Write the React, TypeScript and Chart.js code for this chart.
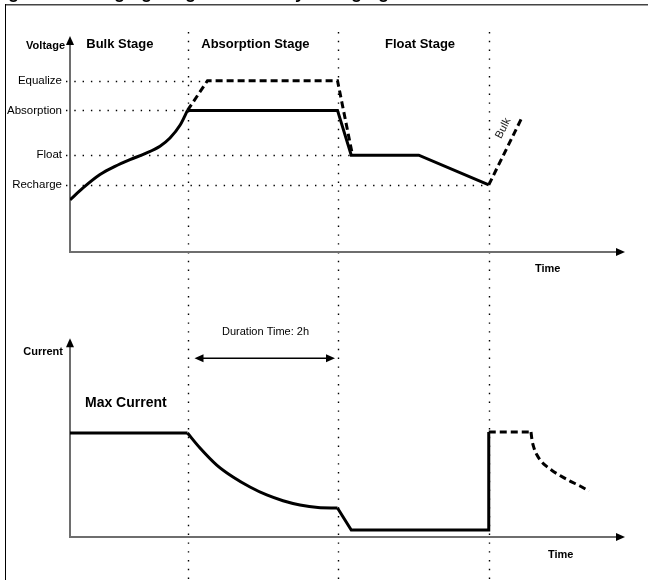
import React, { useEffect, useRef } from 'react';
import { Chart, registerables } from 'chart.js';

Chart.register(...registerables);

const FONT = '"Liberation Sans", Arial, Helvetica, sans-serif';

// ---- text / categories ----
const titleText = 'Figure 5: Charging Stages of Battery Charging';
const stageNames = ['Bulk Stage', 'Absorption Stage', 'Float Stage'];
const stageLabelStart = [13, 105, 252]; // minutes
const stageEnds = [94, 214, 335]; // minutes (stage boundaries)
const timeMax = 444; // minutes shown on the time axes
const durationLabel = 'Duration Time: 2h';

// ---- voltage levels ----
const levelNames = ['Equalize', 'Absorption', 'Float', 'Recharge'];
const levelVolts = [14.8, 14.4, 13.8, 13.4];
const levelGuideEnds = [110, 94, 225, 335]; // minutes where the dotted guide stops
const voltageAxisMin = 12.5;
const voltageAxisMax = 15.4;

// ---- voltage curves (minutes, volts) ----
const bulkVoltT = [0, 10.4, 24, 36, 48, 60, 72, 80, 88, 94];
const bulkVoltV = [13.2, 13.36, 13.54, 13.65, 13.74, 13.82, 13.92, 14.03, 14.2, 14.4];
const absFloatVoltT = [94, 214, 225, 279, 335];
const absFloatVoltV = [14.4, 14.4, 13.8, 13.8, 13.4];
const equalizeVoltT = [94, 110, 214, 226];
const equalizeVoltV = [14.4, 14.8, 14.8, 13.8];
const reBulkVoltT = [335, 362];
const reBulkVoltV = [13.4, 14.32];

// ---- current curves (minutes, % of max current) ----
const bulkCurT = [0, 94];
const bulkCurI = [100, 100];
const absCurT = [94, 104, 117.4, 130.4, 144, 157.4, 170.4, 184, 198.4, 214];
const absCurI = [100, 85.6, 69.2, 57.7, 48.1, 40.4, 34.9, 30.8, 28.4, 27.9];
const floatCurT = [214, 225, 335, 335];
const floatCurI = [27.9, 6.7, 6.7, 101];
const nextFlatT = [335, 368.8];
const nextFlatI = [101, 101];
const nextDecayT = [368.8, 369.6, 371.2, 373.6, 376.8, 380.8, 385.6, 392, 400, 408, 415.2];
const nextDecayI = [101, 93.3, 85.6, 78.8, 73.1, 68.3, 64.0, 59.1, 53.8, 49.0, 44.2];
const currentAxisMax = 191;

const toXY = (t: number[], v: number[]) => t.map((x, i) => ({ x, y: v[i] }));

const lineDs = (label: string, t: number[], v: number[], axis: string, extra: any = {}) => ({
  label,
  data: toXY(t, v),
  yAxisID: axis,
  borderColor: '#000',
  backgroundColor: '#000',
  borderWidth: 3,
  pointRadius: 0,
  pointHoverRadius: 0,
  fill: false,
  tension: 0,
  borderJoinStyle: 'miter',
  borderCapStyle: 'butt',
  ...extra,
});

const DASH = [7, 4];

function arrowHead(ctx: CanvasRenderingContext2D, tx: number, ty: number, dir: 'up' | 'right' | 'left') {
  const L = 9;
  const W = 4;
  ctx.beginPath();
  if (dir === 'up') {
    ctx.moveTo(tx, ty);
    ctx.lineTo(tx - W, ty + L);
    ctx.lineTo(tx + W, ty + L);
  } else if (dir === 'right') {
    ctx.moveTo(tx, ty);
    ctx.lineTo(tx - L, ty - W);
    ctx.lineTo(tx - L, ty + W);
  } else {
    ctx.moveTo(tx, ty);
    ctx.lineTo(tx + L, ty - W);
    ctx.lineTo(tx + L, ty + W);
  }
  ctx.closePath();
  ctx.fill();
}

function seg(ctx: CanvasRenderingContext2D, x1: number, y1: number, x2: number, y2: number) {
  ctx.beginPath();
  ctx.moveTo(x1, y1);
  ctx.lineTo(x2, y2);
  ctx.stroke();
}

const diagramPlugin = {
  id: 'diagram',
  beforeDatasetsDraw(chart: any) {
    const { ctx, scales } = chart;
    const x = scales.x;
    const yV = scales.yV;
    const yI = scales.yI;
    const px = (t: number) => x.getPixelForValue(t);
    ctx.save();

    // frame
    ctx.strokeStyle = '#444';
    ctx.lineWidth = 1.5;
    seg(ctx, 5, 4.75, 648, 4.75);
    ctx.strokeStyle = '#000';
    ctx.lineWidth = 1;
    seg(ctx, 5.5, 4, 5.5, 580);

    // stage boundaries (dotted verticals)
    ctx.strokeStyle = '#000';
    ctx.lineWidth = 1.4;
    ctx.setLineDash([1.4, 7.4]);
    stageEnds.forEach((t) => {
      const X = Math.round(px(t)) + 0.5;
      seg(ctx, X, 32, X, 580);
    });

    // level guides (dotted horizontals)
    ctx.setLineDash([1.4, 6.9]);
    levelVolts.forEach((v, i) => {
      const Y = Math.round(yV.getPixelForValue(v)) + 0.5;
      seg(ctx, 66, Y, px(levelGuideEnds[i]), Y);
    });
    ctx.setLineDash([]);

    // axes
    ctx.strokeStyle = '#6e6e6e';
    ctx.fillStyle = '#000';
    ctx.lineWidth = 2;
    const x0 = px(0);
    const xEnd = px(timeMax);
    const vBase = yV.getPixelForValue(voltageAxisMin);
    const vTop = yV.getPixelForValue(voltageAxisMax);
    seg(ctx, x0, vBase, x0, vTop + 8);
    seg(ctx, x0 - 1, vBase, xEnd - 8, vBase);
    arrowHead(ctx, x0, vTop, 'up');
    arrowHead(ctx, xEnd, vBase, 'right');

    const iBase = yI.getPixelForValue(0);
    const iTop = yI.getPixelForValue(currentAxisMax);
    seg(ctx, x0, iBase, x0, iTop + 8);
    seg(ctx, x0 - 1, iBase, xEnd - 8, iBase);
    arrowHead(ctx, x0, iTop, 'up');
    arrowHead(ctx, xEnd, iBase, 'right');

    // duration arrow
    const dY = iTop + 20;
    const dL = px(stageEnds[0]) + 7;
    const dR = px(stageEnds[1]) - 2.5;
    ctx.strokeStyle = '#000';
    ctx.lineWidth = 1.5;
    seg(ctx, dL + 6, dY, dR - 6, dY);
    arrowHead(ctx, dL, dY, 'left');
    arrowHead(ctx, dR, dY, 'right');

    ctx.restore();
  },
  afterDatasetsDraw(chart: any) {
    const { ctx, scales } = chart;
    const x = scales.x;
    const yV = scales.yV;
    const yI = scales.yI;
    const px = (t: number) => x.getPixelForValue(t);
    const x0 = px(0);
    const xEnd = px(timeMax);
    const vBase = yV.getPixelForValue(voltageAxisMin);
    const vTop = yV.getPixelForValue(voltageAxisMax);
    const iBase = yI.getPixelForValue(0);
    const iTop = yI.getPixelForValue(currentAxisMax);
    ctx.save();
    ctx.fillStyle = '#000';

    // cut-off caption at the very top (only descenders remain visible)
    ctx.font = `bold 18px ${FONT}`;
    ctx.textAlign = 'left';
    ctx.textBaseline = 'alphabetic';
    ctx.fillText(titleText, -8, -2.5);

    ctx.textBaseline = 'middle';

    // axis names
    ctx.font = `bold 11px ${FONT}`;
    ctx.textAlign = 'right';
    ctx.fillText('Voltage', x0 - 5, vTop + 10);
    ctx.fillText('Current', x0 - 7, iTop + 14);
    ctx.textAlign = 'left';
    ctx.fillText('Time', xEnd - 90, vBase + 17);
    ctx.fillText('Time', xEnd - 77, iBase + 18);

    // level names
    ctx.font = `11.5px ${FONT}`;
    ctx.textAlign = 'right';
    levelNames.forEach((n, i) => {
      ctx.fillText(n, 62, yV.getPixelForValue(levelVolts[i]));
    });

    // stage names
    ctx.font = `bold 13px ${FONT}`;
    ctx.textAlign = 'left';
    stageNames.forEach((n, i) => {
      ctx.fillText(n, px(stageLabelStart[i]), vTop + 8);
    });

    // max current
    ctx.font = `bold 14px ${FONT}`;
    ctx.fillText('Max Current', x0 + 15, yI.getPixelForValue(100) - 30);

    // duration text
    ctx.font = `11px ${FONT}`;
    ctx.textAlign = 'center';
    ctx.fillText(durationLabel, (px(stageEnds[0]) + px(stageEnds[1])) / 2 + 3, iTop - 6);

    // "Bulk" along the re-bulk dashed line
    ctx.save();
    ctx.translate(px(346.6), yV.getPixelForValue(14.16));
    ctx.rotate(-1.094);
    ctx.fillStyle = '#222';
    ctx.font = `11px ${FONT}`;
    ctx.fillText('Bulk', 0, 0);
    ctx.restore();

    ctx.restore();
  },
};

export default function App() {
  const ref = useRef<HTMLCanvasElement>(null);
  useEffect(() => {
    if (!ref.current) return;
    const chart = new Chart(ref.current, {
      type: 'line',
      data: {
        datasets: [
          lineDs('Bulk voltage', bulkVoltT, bulkVoltV, 'yV', { cubicInterpolationMode: 'monotone' }),
          lineDs('Absorption / float voltage', absFloatVoltT, absFloatVoltV, 'yV'),
          lineDs('Equalize voltage', equalizeVoltT, equalizeVoltV, 'yV', { borderDash: DASH }),
          lineDs('Re-bulk voltage', reBulkVoltT, reBulkVoltV, 'yV', { borderDash: DASH }),
          lineDs('Bulk current', bulkCurT, bulkCurI, 'yI'),
          lineDs('Absorption current', absCurT, absCurI, 'yI', { cubicInterpolationMode: 'monotone' }),
          lineDs('Float current', floatCurT, floatCurI, 'yI'),
          lineDs('Re-bulk current', nextFlatT, nextFlatI, 'yI', { borderDash: DASH }),
          lineDs('Re-bulk decay', nextDecayT, nextDecayI, 'yI', { borderDash: DASH, cubicInterpolationMode: 'monotone' }),
        ] as any,
      },
      options: {
        responsive: false,
        animation: false,
        events: [],
        layout: { padding: { left: 70, right: 23, top: 34, bottom: 43 } },
        plugins: { legend: { display: false }, tooltip: { enabled: false }, title: { display: false } },
        scales: {
          x: { type: 'linear', min: 0, max: timeMax, display: false },
          yV: { type: 'linear', position: 'left', min: 8.674, max: 15.426, display: false },
          yI: { type: 'linear', position: 'left', min: 0, max: 483.65, display: false },
        },
      } as any,
      plugins: [diagramPlugin as any],
    });
    return () => chart.destroy();
  }, []);
  return (
    <div style={{ position: 'fixed', left: 0, top: 0, width: 648, height: 580, background: '#fff' }}>
      <canvas ref={ref} width={648} height={580} style={{ display: 'block' }} />
    </div>
  );
}
